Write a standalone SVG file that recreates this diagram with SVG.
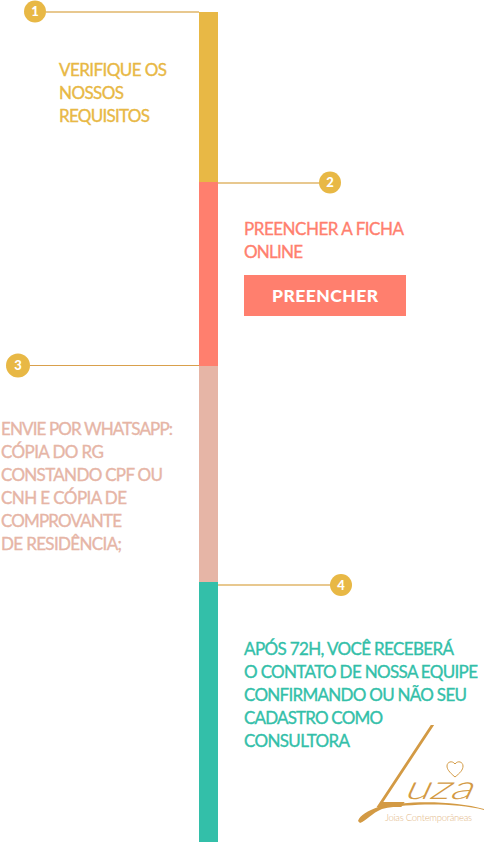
<svg xmlns="http://www.w3.org/2000/svg" width="494" height="843" viewBox="0 0 494 843">
<style>
text{font-family:Lato,"Liberation Sans",sans-serif}
.t{font-size:17px;font-weight:400;stroke-width:.35px}
.n{font-size:13px;font-weight:900;fill:#fff;text-anchor:middle}
.d{fill:#e8b845}
.gold{fill:#e8b845}.coral{fill:#ff7f6e}.pink{fill:#e6b5a6}.teal{fill:#33bfa9}
text.gold{stroke:#e8b845}text.coral{stroke:#ff7f6e}text.pink{stroke:#e6b5a6}text.teal{stroke:#33bfa9}
.c{fill:none;stroke:#e8c88f;stroke-width:2}
.logo{fill:#d39a44}
</style>
<rect width="494" height="843" fill="#fff"/>
<g id="connectors">
<path class="c" d="M46 12H199"/>
<path class="c" d="M218 183H320"/>
<path class="c" d="M30 365.500H199" style="stroke:#d9a04c;stroke-width:1"/>
<path class="c" d="M218 585H331"/>
</g>
<g id="step1">
<rect class="gold" x="199" y="12" width="19" height="170"/>
<circle class="d" cx="35" cy="11.500" r="11"/><text class="n" x="35" y="16">1</text>
<text class="t gold" x="59" y="76" textLength="108">VERIFIQUE OS</text>
<text class="t gold" x="59" y="99" textLength="65">NOSSOS</text>
<text class="t gold" x="59" y="122" textLength="91">REQUISITOS</text>
</g>
<g id="step2">
<rect class="coral" x="199" y="182" width="19" height="184"/>
<circle class="d" cx="330" cy="182.500" r="11"/><text class="n" x="330" y="187">2</text>
<text class="t coral" x="244" y="235" textLength="160">PREENCHER A FICHA</text>
<text class="t coral" x="244" y="258" textLength="59">ONLINE</text>
</g>
<g id="button">
<rect class="coral" x="244" y="275" width="162" height="41"/>
<text x="272" y="302" font-size="17.500" font-weight="900" fill="#fff" textLength="106">PREENCHER</text>
</g>
<g id="step3">
<rect class="pink" x="199" y="366" width="19" height="216"/>
<circle class="d" cx="18" cy="365.500" r="12"/><text class="n" x="18" y="370">3</text>
<text class="t pink" x="1" y="435" textLength="172">ENVIE POR WHATSAPP:</text>
<text class="t pink" x="1" y="458" textLength="103">CÓPIA DO RG</text>
<text class="t pink" x="1" y="481" textLength="162">CONSTANDO CPF OU</text>
<text class="t pink" x="1" y="504" textLength="126">CNH E CÓPIA DE</text>
<text class="t pink" x="1" y="527" textLength="121">COMPROVANTE</text>
<text class="t pink" x="1" y="550" textLength="121">DE RESIDÊNCIA;</text>
</g>
<g id="step4">
<rect class="teal" x="199" y="582" width="19" height="260"/>
<circle class="d" cx="341" cy="585" r="11"/><text class="n" x="341" y="590">4</text>
<text class="t teal" x="244" y="655" textLength="210">APÓS 72H, VOCÊ RECEBERÁ</text>
<text class="t teal" x="244" y="678" textLength="234">O CONTATO DE NOSSA EQUIPE</text>
<text class="t teal" x="244" y="701" textLength="223">CONFIRMANDO OU NÃO SEU</text>
<text class="t teal" x="244" y="724" textLength="139">CADASTRO COMO</text>
<text class="t teal" x="244" y="747" textLength="106">CONSULTORA</text>
</g>
<g id="logo">
<text class="logo" transform="translate(370 807) matrix(0.55 0 -0.66 1 0 0)" font-size="116" font-weight="300">L</text>
<text class="logo" x="0" y="0" transform="translate(403 799) skewX(-25)" font-size="33" font-weight="300" textLength="68" lengthAdjust="spacingAndGlyphs">uza</text>
<path class="logo" d="M358 821C360 815 368 811 378 807C410 800 455 801 484 809L484 810C455 803 412 803 382 809C372 813 366 821 360 823Z"/>
<path d="M455 777C449 772 447 769 447 766C447 762 452 760 455 764C458 760 463 762 463 766C463 770 460 773 455 777Z" fill="none" stroke="#d39a44" stroke-width="1"/>
<text x="385" y="821" font-size="9.500" font-weight="300" fill="#dfb684" textLength="87">Joias Contemporâneas</text>
</g>
</svg>
